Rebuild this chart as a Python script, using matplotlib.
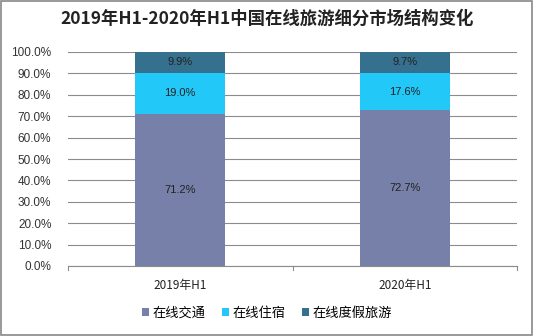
import matplotlib
matplotlib.use('Agg')
import matplotlib.pyplot as plt
import numpy as np

plt.rcParams['font.family'] = ['Noto Sans CJK SC', 'DejaVu Sans']

# 数据
categories = ['2019年H1', '2020年H1']
series_names = ['在线交通', '在线住宿', '在线度假旅游']
traffic = [71.2, 72.7]
lodging = [19.0, 17.6]
vacation = [9.9, 9.7]
colors = ['#7680A8', '#22C8F8', '#36708F']

fig = plt.figure(figsize=(5.34, 3.36), dpi=100)
fig.patches.append(plt.Rectangle((0.002, 0.003), 0.995, 0.994, transform=fig.transFigure,
                                 fill=False, edgecolor='#888888', linewidth=1.2))
ax = fig.add_axes([68 / 534, 1 - 266 / 336, 449 / 534, 214 / 336])

x = np.arange(len(categories))
bottom = np.zeros(len(categories))
for vals, name, c in zip([traffic, lodging, vacation], series_names, colors):
    bars = ax.bar(x, vals, width=0.4, bottom=bottom, color=c, label=name, zorder=3)
    for xi, v, b in zip(x, vals, bottom):
        ax.text(xi, b + v / 2, f'{v:.1f}%', ha='center', va='center',
                fontsize=8, color='#222222', family='Liberation Sans', zorder=4)
    bottom += np.array(vals)

ax.set_xlim(-0.5, 1.5)
ax.set_ylim(0, 100)
ax.set_yticks(np.arange(0, 101, 10))
ax.set_yticklabels([f'{t:.1f}%' for t in range(0, 101, 10)], fontsize=8.5, color='#333333',
                   family='Liberation Sans')
ax.yaxis.grid(True, color='#8c8c8c', linewidth=0.8, zorder=0)
ax.tick_params(axis='y', length=0, pad=12)
ax.set_xticks(x)
ax.set_xticklabels(categories, fontsize=8.5, color='#222222')
ax.tick_params(axis='x', length=0, pad=9)
# category boundary ticks
for bx in [-0.5, 0.5, 1.5]:
    ax.plot([bx, bx], [0, -1.8], color='#8c8c8c', linewidth=0.8, clip_on=False)
for s in ['top', 'right', 'left']:
    ax.spines[s].set_visible(False)
ax.spines['bottom'].set_color('#8c8c8c')
ax.spines['bottom'].set_linewidth(0.8)

fig.suptitle('2019年H1-2020年H1中国在线旅游细分市场结构变化', x=0.5, y=0.97,
             fontsize=12.5, fontweight='bold', color='#222222')

handles, labels = ax.get_legend_handles_labels()
leg = fig.legend(handles, labels, loc='center', bbox_to_anchor=(0.5, 1 - 313 / 336), ncol=3,
                 frameon=False, fontsize=9.5, handlelength=0.5, handleheight=0.5,
                 handletextpad=0.25, columnspacing=1.3)

fig.savefig('out.png', dpi=100)
